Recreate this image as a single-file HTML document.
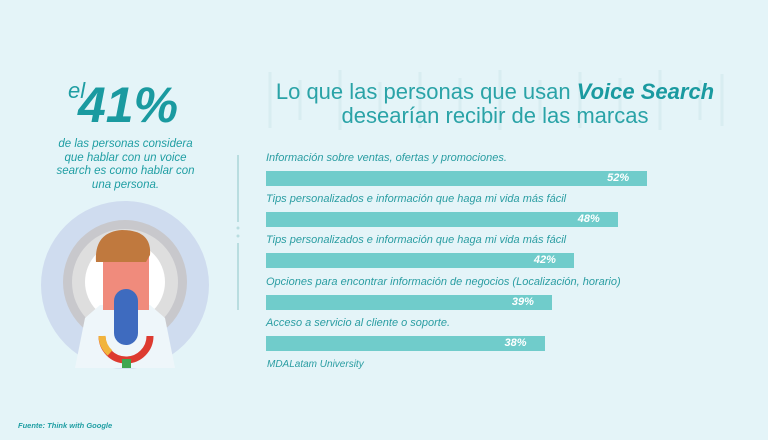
<!DOCTYPE html>
<html><head><meta charset="utf-8"><style>
body{margin:0;width:768px;height:440px;overflow:hidden;background:#e4f4f8;font-family:"Liberation Sans",sans-serif;position:relative}
.t{position:absolute;color:#1f9ea3;font-style:italic}
</style></head><body>
<svg width="768" height="440" style="position:absolute;left:0;top:0">
 <g stroke="#d8edf1" stroke-width="3">
  <line x1="270" y1="72" x2="270" y2="128"/><line x1="300" y1="80" x2="300" y2="120"/><line x1="340" y1="70" x2="340" y2="130"/><line x1="380" y1="82" x2="380" y2="118"/><line x1="420" y1="72" x2="420" y2="128"/><line x1="460" y1="78" x2="460" y2="124"/><line x1="500" y1="70" x2="500" y2="130"/><line x1="540" y1="80" x2="540" y2="120"/><line x1="580" y1="72" x2="580" y2="128"/><line x1="620" y1="78" x2="620" y2="124"/><line x1="660" y1="70" x2="660" y2="130"/><line x1="700" y1="80" x2="700" y2="120"/><line x1="722" y1="74" x2="722" y2="126"/>
 </g>
 <line x1="238" y1="155" x2="238" y2="222" stroke="#b9dde0" stroke-width="2"/>
 <circle cx="238" cy="228" r="1.5" fill="#b9dde0"/><circle cx="238" cy="236" r="1.5" fill="#b9dde0"/>
 <line x1="238" y1="243" x2="238" y2="310" stroke="#b9dde0" stroke-width="2"/>
 <circle cx="125" cy="285" r="84" fill="#cfdcef"/>
 <circle cx="125" cy="282" r="62" fill="#c8c8cc"/>
 <circle cx="125" cy="282" r="53" fill="#dedede"/>
 <circle cx="125" cy="282" r="40" fill="#fff"/>
 <path d="M85 318 L100 305 L150 305 L165 318 L175 368 L75 368 Z" fill="#eef6fa"/>
 <rect x="103" y="255" width="46" height="55" fill="#f08b7c"/>
 <path d="M96 262 Q94 232 122 230 Q152 230 150 255 L146 262 L105 262 Z" fill="#c0793e"/>
 <path d="M102 336 A24 24 0 0 0 150 336" fill="none" stroke="#dd3b30" stroke-width="7"/>
 <path d="M102 336 A24 24 0 0 0 110 353" fill="none" stroke="#f1b43c" stroke-width="7"/>
 <rect x="114" y="289" width="24" height="56" rx="12" fill="#3e6bbf"/>
 <rect x="122" y="359" width="9" height="9" fill="#3fa650"/>
</svg>
<div class="t" style="left:68px;top:78px;font-size:22px">el</div>
<div class="t" style="left:78px;top:76px;font-size:50px;font-weight:bold;color:#1a9aa0">41%</div>
<div class="t" style="left:48px;top:138px;width:155px;text-align:center;font-size:11.5px;line-height:13.5px">de las personas considera que hablar con un voice search es como hablar con una persona.</div>
<div class="t" style="left:240px;top:80px;width:510px;text-align:center;font-size:22px;line-height:24px;font-style:normal;color:#2aa3a7">Lo que las personas que usan <b style="font-style:italic;color:#1a9aa0">Voice Search</b><br>desearían recibir de las marcas</div>
<div id="chart"></div>
<div class="t" style="left:267px;top:359px;font-size:10px;color:#2a9da2">MDALatam University</div>
<div class="t" style="left:18px;top:421px;font-size:7.5px;font-weight:bold">Fuente: Think with Google</div>
<script>
const categories=["Información sobre ventas, ofertas y promociones.","Tips personalizados e información que haga mi vida más fácil","Tips personalizados e información que haga mi vida más fácil","Opciones para encontrar información de negocios (Localización, horario)","Acceso a servicio al cliente o soporte."];
const values=[52,48,42,39,38];
const valueLabels=["52%","48%","42%","39%","38%"];
const x0=266,scale=7.33,y0=152,step=41.2;
const chart=document.getElementById('chart');
categories.forEach((c,i)=>{
 const y=y0+i*step;
 const l=document.createElement('div');
 
 
 l.className='t';l.style.cssText=`left:${x0}px;top:${y}px;font-size:11px;color:#2a9da2`;l.textContent=c;chart.appendChild(l);
 const b=document.createElement('div');
 
 
 b.style.cssText=`position:absolute;left:${x0}px;top:${y+19}px;width:${values[i]*scale}px;height:15px;background:#70cccb`;
 const v=document.createElement('span');
 
 
 v.style.cssText='position:absolute;right:18px;top:1px;font-size:11px;font-weight:bold;font-style:italic;color:#fff';
 v.textContent=valueLabels[i];b.appendChild(v);chart.appendChild(b);
});
</script>
</body></html>
